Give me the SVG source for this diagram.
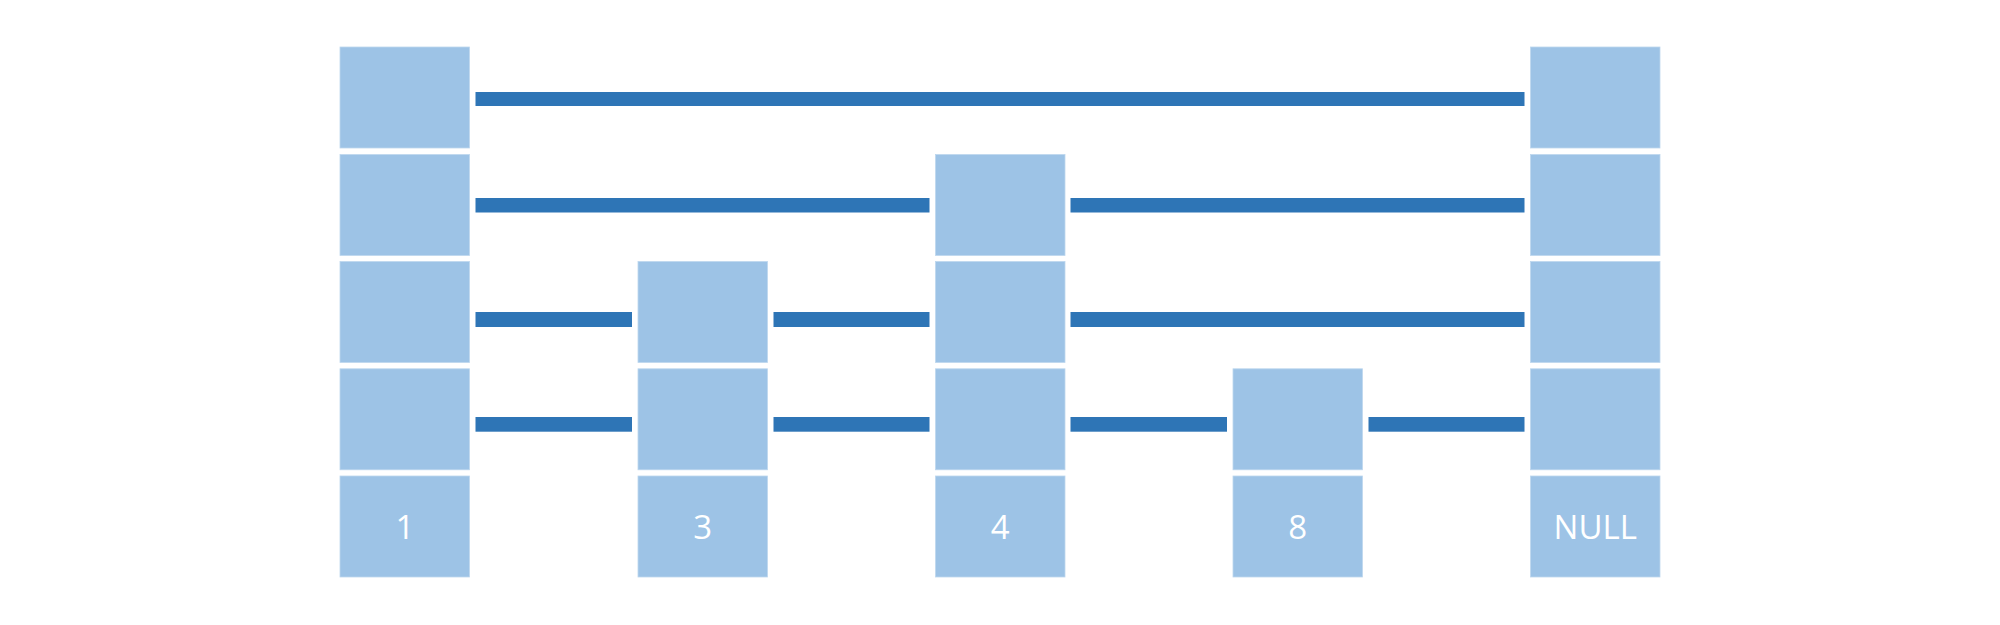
<svg xmlns="http://www.w3.org/2000/svg" width="2000" height="625" viewBox="0 0 2000 625">
<style>
.cell{fill:#9DC3E6;stroke:#BDD7EE;stroke-width:0.8}
.lnk{fill:#2E75B6}
.lbl{font-family:"Open Sans","Noto Sans","DejaVu Sans",sans-serif;font-size:33px;fill:#FFFFFF;text-anchor:middle}
</style>
<rect width="2000" height="625" fill="#FFFFFF"/>
<g id="connectors">
<rect class="lnk" x="475.5" y="92" width="1049" height="14"/>
<rect class="lnk" x="475.5" y="198" width="454" height="14.5"/>
<rect class="lnk" x="1070.5" y="198" width="454" height="14.5"/>
<rect class="lnk" x="475.5" y="312" width="156.5" height="15"/>
<rect class="lnk" x="773.5" y="312" width="156" height="15"/>
<rect class="lnk" x="1070.5" y="312" width="454" height="15"/>
<rect class="lnk" x="475.5" y="417" width="156.5" height="14.7"/>
<rect class="lnk" x="773.5" y="417" width="156" height="14.7"/>
<rect class="lnk" x="1070.5" y="417" width="156.5" height="14.7"/>
<rect class="lnk" x="1368.5" y="417" width="156" height="14.7"/>
</g>
<g id="node-1">
<rect class="cell" x="340" y="47" width="129.5" height="101"/>
<rect class="cell" x="340" y="154.5" width="129.5" height="101"/>
<rect class="cell" x="340" y="261.5" width="129.5" height="101"/>
<rect class="cell" x="340" y="368.8" width="129.5" height="101"/>
<rect class="cell" x="340" y="476" width="129.5" height="101"/>
<text class="lbl" x="405" y="539">1</text>
</g>
<g id="node-3">
<rect class="cell" x="638" y="261.5" width="129.5" height="101"/>
<rect class="cell" x="638" y="368.8" width="129.5" height="101"/>
<rect class="cell" x="638" y="476" width="129.5" height="101"/>
<text class="lbl" x="702.75" y="539">3</text>
</g>
<g id="node-4">
<rect class="cell" x="935.5" y="154.5" width="129.5" height="101"/>
<rect class="cell" x="935.5" y="261.5" width="129.5" height="101"/>
<rect class="cell" x="935.5" y="368.8" width="129.5" height="101"/>
<rect class="cell" x="935.5" y="476" width="129.5" height="101"/>
<text class="lbl" x="1000.25" y="539">4</text>
</g>
<g id="node-8">
<rect class="cell" x="1233" y="368.8" width="129.5" height="101"/>
<rect class="cell" x="1233" y="476" width="129.5" height="101"/>
<text class="lbl" x="1297.75" y="539">8</text>
</g>
<g id="node-null">
<rect class="cell" x="1530.5" y="47" width="129.5" height="101"/>
<rect class="cell" x="1530.5" y="154.5" width="129.5" height="101"/>
<rect class="cell" x="1530.5" y="261.5" width="129.5" height="101"/>
<rect class="cell" x="1530.5" y="368.8" width="129.5" height="101"/>
<rect class="cell" x="1530.5" y="476" width="129.5" height="101"/>
<text class="lbl" x="1595.25" y="539">NULL</text>
</g>
</svg>
